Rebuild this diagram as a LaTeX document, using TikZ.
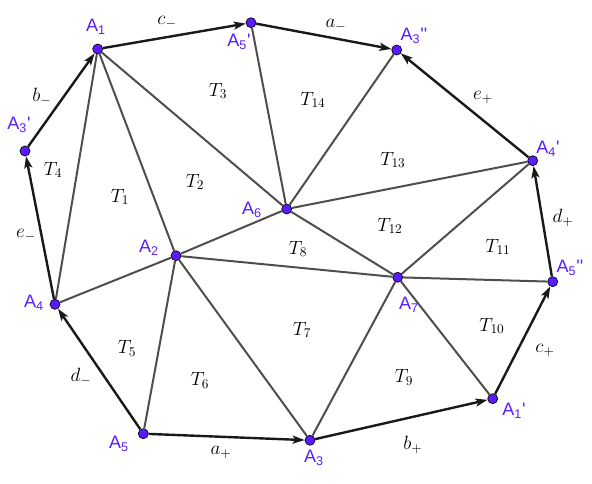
\documentclass[tikz,border=0pt]{standalone}
\usepackage{amssymb}
\usepackage{amsmath}
\usepackage{fontspec}
\usepackage{tikz}
\usetikzlibrary{arrows.meta}
\newfontfamily\ptfont{Liberation Sans}
\definecolor{ptcol}{RGB}{88,28,255}
\definecolor{edgegray}{RGB}{78,78,78}

\begin{document}
\begin{tikzpicture}[x=0.75pt,y=-0.75pt,
        pt/.style={circle,fill=ptcol,draw=black,line width=0.5pt,inner sep=0pt,minimum size=7.5pt},
        ptlabel/.style={text=ptcol,font=\ptfont\fontsize{13.5}{15}\selectfont,inner sep=0pt},
        mlabel/.style={font=\fontsize{14}{16}\selectfont,inner sep=0pt},
        inner/.style={draw=edgegray,line width=1.5pt},
        bnd/.style={draw=black!90,line width=1.8pt,-{Stealth[length=9pt,width=6pt,inset=2pt]}}]
            \useasboundingbox (0,0) rectangle (592,484);

            % Place the vertices
            \node[pt] (a1) at (97.7,49) {};
            \node[pt] (a5p) at (251,22.7) {};
            \node[pt] (a3pp) at (396.7,50) {};
            \node[pt] (a4p) at (532.7,160.7) {};
            \node[pt] (a5pp) at (552.7,281.7) {};
            \node[pt] (a1p) at (492.7,398.7) {};
            \node[pt] (a3) at (310,440.3) {};
            \node[pt] (a5) at (143.3,433.7) {};
            \node[pt] (a4) at (55,304.3) {};
            \node[pt] (a3p) at (25,151) {};
            \node[pt] (a2) at (176,255.7) {};
            \node[pt] (a6) at (286.7,209) {};
            \node[pt] (a7) at (397.7,277.3) {};

            % The vertex names
            \node[ptlabel] (la1) at (96,27) {A\textsubscript{1}};
            \node[ptlabel] (la5p) at (239,42) {A\textsubscript{5}'};
            \node[ptlabel] (la3pp) at (414,36) {A\textsubscript{3}''};
            \node[ptlabel] (la4p) at (548,149) {A\textsubscript{4}'};
            \node[ptlabel] (la5pp) at (570,268) {A\textsubscript{5}''};
            \node[ptlabel] (la1p) at (514,411) {A\textsubscript{1}'};
            \node[ptlabel] (la3) at (314,458) {A\textsubscript{3}};
            \node[ptlabel] (la5) at (119,444) {A\textsubscript{5}};
            \node[ptlabel] (la4) at (34,303) {A\textsubscript{4}};
            \node[ptlabel] (la3p) at (19,125) {A\textsubscript{3}'};
            \node[ptlabel] (la2) at (149,248) {A\textsubscript{2}};
            \node[ptlabel] (la6) at (252,210) {A\textsubscript{6}};
            \node[ptlabel] (la7) at (409,305) {A\textsubscript{7}};

            % The inner lines
            \draw[inner] (a1) -- (a4);
            \draw[inner] (a1) -- (a2);
            \draw[inner] (a1) -- (a6);
            \draw[inner] (a5p) -- (a6);
            \draw[inner] (a6) -- (a3pp);
            \draw[inner] (a6) -- (a4p);
            \draw[inner] (a6) -- (a2);
            \draw[inner] (a6) -- (a7);
            \draw[inner] (a2) -- (a4);
            \draw[inner] (a2) -- (a5);
            \draw[inner] (a2) -- (a3);
            \draw[inner] (a2) -- (a7);
            \draw[inner] (a7) -- (a4p);
            \draw[inner] (a7) -- (a5pp);
            \draw[inner] (a7) -- (a1p);
            \draw[inner] (a7) -- (a3);

            % The boundary arrows
            \draw[bnd] (a1) -- (a5p);
            \draw[bnd] (a5p) -- (a3pp);
            \draw[bnd] (a4p) -- (a3pp);
            \draw[bnd] (a5pp) -- (a4p);
            \draw[bnd] (a1p) -- (a5pp);
            \draw[bnd] (a3) -- (a1p);
            \draw[bnd] (a5) -- (a3);
            \draw[bnd] (a5) -- (a4);
            \draw[bnd] (a4) -- (a3p);
            \draw[bnd] (a3p) -- (a1);

            % Edge names
            \node[mlabel] (lc1) at (167,22) {$c_-$};
            \node[mlabel] (la1e) at (336,25) {$a_-$};
            \node[mlabel] (le2) at (483,97) {$e_+$};
            \node[mlabel] (ld2) at (563,218) {$d_+$};
            \node[mlabel] (lc2) at (545,350) {$c_+$};
            \node[mlabel] (lb2) at (413,445) {$b_+$};
            \node[mlabel] (la2e) at (221,452) {$a_+$};
            \node[mlabel] (ld1) at (81,377) {$d_-$};
            \node[mlabel] (le1) at (26,235) {$e_-$};
            \node[mlabel] (lb1) at (42,97) {$b_-$};

            % Triangle names
            \node[mlabel] (t1) at (120,197) {$T_1$};
            \node[mlabel] (t2) at (195,182) {$T_2$};
            \node[mlabel] (t3) at (218,91) {$T_3$};
            \node[mlabel] (t4) at (53,170) {$T_4$};
            \node[mlabel] (t5) at (127,348) {$T_5$};
            \node[mlabel] (t6) at (200,380) {$T_6$};
            \node[mlabel] (t7) at (302,330) {$T_7$};
            \node[mlabel] (t8) at (298,249) {$T_8$};
            \node[mlabel] (t9) at (404,377) {$T_9$};
            \node[mlabel] (t10) at (492,326) {$T_{10}$};
            \node[mlabel] (t11) at (498,247) {$T_{11}$};
            \node[mlabel] (t12) at (390,226) {$T_{12}$};
            \node[mlabel] (t13) at (393,160) {$T_{13}$};
            \node[mlabel] (t14) at (313,100) {$T_{14}$};
        \end{tikzpicture}
\end{document}
